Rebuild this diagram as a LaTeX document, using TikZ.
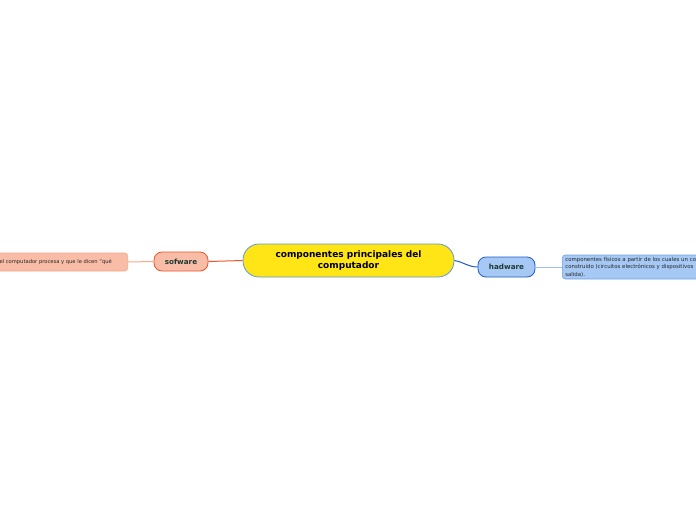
\documentclass[tikz,border=0pt]{standalone}
\usepackage{fontspec}
\setmainfont{DejaVu Sans}
\definecolor{rootfill}{HTML}{FFE516}
\definecolor{rootline}{HTML}{5A9BD5}
\definecolor{swfill}{HTML}{F9BCA6}
\definecolor{swline}{HTML}{E9562B}
\definecolor{swnote}{HTML}{F6A88C}
\definecolor{hwfill}{HTML}{A5C8F5}
\definecolor{hwline}{HTML}{1E5CC8}
\definecolor{hwnote}{HTML}{74A3E6}
\definecolor{ink}{HTML}{1F3A32}
\tikzset{root/.style={draw=rootline, fill=rootfill, line width=0.8pt, rounded corners=16pt,
    minimum width=211pt, minimum height=33pt, align=center, inner sep=0pt,
    font=\fontsize{9}{10.5}\selectfont\bfseries},
  topic/.style={draw, line width=0.8pt, rounded corners=8pt, minimum height=19pt,
    inner sep=0pt, text=ink, font=\fontsize{7.2}{8}\selectfont\bfseries},
  note/.style={draw, line width=0.6pt, rounded corners=3pt, inner sep=0pt,
    font=\fontsize{5.4}{7.6}\selectfont, text=black!85},
  link/.style={line width=1pt}}

\begin{document}
\begin{tikzpicture}[x=1pt, y=-1pt]
  \useasboundingbox[fill=white] (0,0) rectangle (696,520);
  % central topic
  \node[root] (comp) at (348.5,260.5) {componentes principales del\\computador};
  % left branch
  \node[topic, draw=swline, fill=swfill, minimum width=54pt] (sw) at (181,261.5) {sofware};
  \node[note, draw=swnote, fill=swfill, minimum height=18pt, minimum width=150pt,
    font=\fontsize{5.2}{7.6}\selectfont, anchor=east] (swtxt) at (128,262)
    {\hspace{6pt}el computador procesa y que le dicen "qué\hspace{8pt}};
  % right branch
  \node[topic, draw=hwline, fill=hwfill, minimum width=57pt, minimum height=20pt] (hw) at (506.5,267) {hadware};
  \node[note, draw=hwnote, fill=hwfill, minimum height=24pt, text width=160pt, align=left,
    anchor=west] (hwtxt) at (562,267) {\hspace*{3pt}componentes físicos a partir de los cuales un co\\\hspace*{3pt}construido (circuitos electrónicos y dispositivos\\\hspace*{3pt}salida).};
  % connectors
  \draw[link, swline] (comp.west) -- (sw.east);
  \draw[link, swnote] (sw.west) -- (swtxt.east);
  \draw[link, hwline] (comp.east) to[out=-10, in=180] (hw.west);
  \draw[link, hwnote!70] (hw.east) -- (hwtxt.west);
\end{tikzpicture}
\end{document}
